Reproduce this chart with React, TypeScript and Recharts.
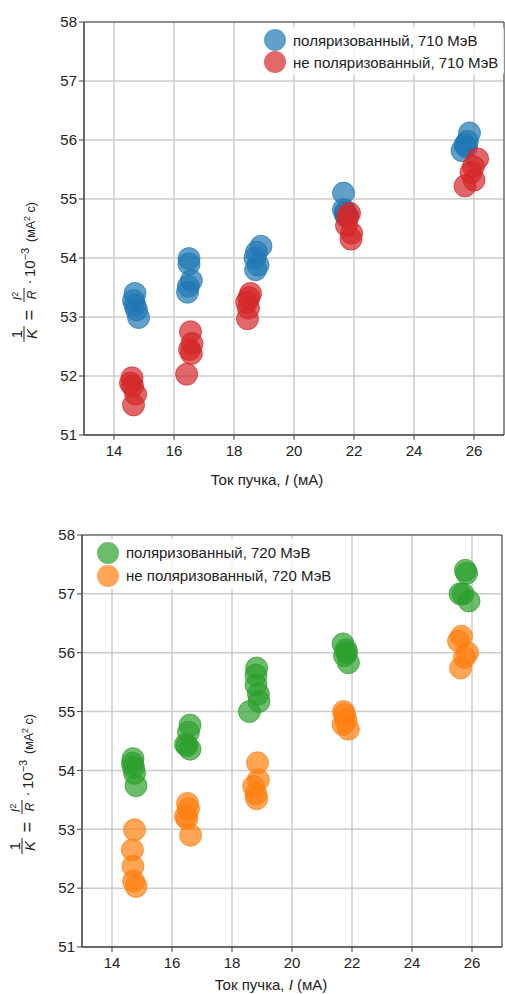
import React from 'react';
import { ScatterChart, Scatter, XAxis, YAxis, CartesianGrid, ReferenceArea, Legend } from 'recharts';

const xTicks = [14, 16, 18, 20, 22, 24, 26];
const yTicks = [51, 52, 53, 54, 55, 56, 57, 58];

// [ток пучка (мА), 1/K * 10^-3]
const pol710: [number, number][] = [
  [14.7, 53.4], [14.65, 53.28], [14.7, 53.2], [14.75, 53.12], [14.82, 52.99],
  [16.5, 53.99], [16.5, 53.9], [16.58, 53.62], [16.48, 53.52], [16.45, 53.42],
  [18.9, 54.2], [18.75, 54.1], [18.7, 54.0], [18.8, 53.88], [18.72, 53.8],
  [21.65, 55.1], [21.65, 54.82], [21.7, 54.75], [21.72, 54.78], [21.75, 54.7],
  [25.85, 56.12], [25.78, 55.98], [25.7, 55.92], [25.6, 55.82], [25.75, 55.88],
];
const unpol710: [number, number][] = [
  [14.6, 51.97], [14.55, 51.88], [14.62, 51.83], [14.72, 51.69], [14.65, 51.51],
  [16.55, 52.75], [16.6, 52.55], [16.52, 52.45], [16.58, 52.38], [16.42, 52.03],
  [18.55, 53.4], [18.5, 53.33], [18.42, 53.25], [18.48, 53.15], [18.45, 52.97],
  [21.85, 54.76], [21.8, 54.7], [21.75, 54.55], [21.92, 54.42], [21.9, 54.32],
  [26.12, 55.68], [25.98, 55.55], [25.9, 55.45], [26.0, 55.32], [25.7, 55.22],
];
const pol720: [number, number][] = [
  [14.7, 54.2], [14.68, 54.12], [14.72, 54.05], [14.75, 53.95], [14.8, 53.74],
  [16.6, 54.77], [16.55, 54.65], [16.45, 54.44], [16.6, 54.36], [16.5, 54.42],
  [18.82, 55.74], [18.8, 55.62], [18.8, 55.45], [18.88, 55.3], [18.9, 55.17], [18.58, 55.0],
  [21.7, 56.15], [21.8, 56.05], [21.82, 56.0], [21.75, 55.95], [21.88, 55.83],
  [25.78, 57.4], [25.82, 57.35], [25.6, 57.0], [25.7, 57.0], [25.9, 56.88],
];
const unpol720: [number, number][] = [
  [14.75, 52.99], [14.68, 52.65], [14.7, 52.37], [14.72, 52.12], [14.8, 52.03],
  [16.52, 53.44], [16.55, 53.35], [16.45, 53.22], [16.5, 53.18], [16.62, 52.9],
  [18.85, 54.13], [18.88, 53.84], [18.72, 53.73], [18.8, 53.6], [18.82, 53.52],
  [21.72, 55.0], [21.75, 54.95], [21.7, 54.78], [21.88, 54.7], [21.8, 54.85],
  [25.65, 56.28], [25.55, 56.2], [25.85, 56.0], [25.75, 55.92], [25.62, 55.74],
];

const toPoints = (arr: [number, number][]) => arr.map(([x, y]) => ({ x, y }));

const FONT = '"Liberation Sans", Arial, sans-serif';
const TEXT = '#222';
const FRAME = '#444';
const FS = 15;

type Series = { name: string; color: string; data: [number, number][] };

const dot = (color: string) => (props: any) => (
  <circle cx={props.cx} cy={props.cy} r={11} fill={color} fillOpacity={0.7}
    stroke={color} strokeOpacity={0.7} strokeWidth={1} />
);

// legend keeps the plotting order (recharts would sort by name)
const renderLegend = (series: Series[], rowH: number) => () => (
  <div style={{ background: 'rgba(255,255,255,0.8)', borderRadius: 3, padding: '2px 6px 2px 3px', fontFamily: FONT, fontSize: FS, color: TEXT }}>
    {series.map((s) => (
      <div key={s.name} style={{ display: 'flex', alignItems: 'center', height: rowH, whiteSpace: 'nowrap' }}>
        <span style={{ display: 'inline-block', width: 22, height: 22, borderRadius: '50%', background: s.color, opacity: 0.7, marginRight: 7 }} />
        <span>{s.name}</span>
      </div>
    ))}
  </div>
);

const xLabel = (dx: number, dy: number) => (props: any) => {
  const vb = props.viewBox;
  return (
    <text x={vb.x + vb.width / 2 + dx} y={vb.y + dy} textAnchor="middle" fontSize={FS} fontFamily={FONT} fill={TEXT}>
      Ток пучка, <tspan fontStyle="italic">I</tspan> (мА)
    </text>
  );
};

const yLabel = (tx: number, fromBottom: number) => (props: any) => {
  const vb = props.viewBox;
  const cy = vb.y + vb.height - fromBottom;
  return (
    <g transform={`translate(${tx},${cy}) rotate(-90)`} fill={TEXT} fontFamily={FONT}>
      <text x={-69} y={-2} fontSize={15} textAnchor="middle">1</text>
      <line x1={-77} x2={-61} y1={0} y2={0} stroke={TEXT} strokeWidth={1} />
      <text x={-69} y={13} fontSize={15} fontStyle="italic" textAnchor="middle">K</text>
      <text x={-50} y={11} fontSize={18} textAnchor="middle">=</text>
      <text x={-31} y={-2} fontSize={12} fontStyle="italic" textAnchor="middle">I<tspan dy={-4} fontSize={9} fontStyle="normal">2</tspan></text>
      <line x1={-37} x2={-23} y1={0} y2={0} stroke={TEXT} strokeWidth={1} />
      <text x={-30} y={12} fontSize={12} fontStyle="italic" textAnchor="middle">R</text>
      <text x={-17} y={10} fontSize={15} textAnchor="middle">·</text>
      <text x={-12} y={11} fontSize={15}>10<tspan dy={-6} fontSize={11}>−3</tspan></text>
      <text x={23} y={11} fontSize={12.5}>(мА<tspan dy={-5} fontSize={9}>2</tspan><tspan dy={5}>  с)</tspan></text>
    </g>
  );
};

type PanelProps = {
  top: number;
  width: number;
  height: number;
  marginTop: number;
  marginRight: number;
  yAxisWidth: number;
  xAxisHeight: number;
  series: Series[];
  legendPos: { top: number; left: number };
  legendRow: number;
  xLabelDx: number;
  xLabelDy: number;
  yLabelX: number;
};

const Panel = (p: PanelProps) => (
  <div style={{ position: 'absolute', left: 0, top: p.top }}>
    <ScatterChart width={p.width} height={p.height} margin={{ top: p.marginTop, right: p.marginRight, bottom: 0, left: 0 }}>
      <CartesianGrid stroke="#cccccc" strokeWidth={1.5} />
      <XAxis type="number" dataKey="x" domain={[13, 27]} ticks={xTicks} interval={0}
        height={p.xAxisHeight} tickSize={5} tickMargin={5} allowDataOverflow
        axisLine={{ stroke: FRAME }} tickLine={{ stroke: FRAME }}
        tick={{ fill: TEXT, fontSize: FS, fontFamily: FONT }}
        label={xLabel(p.xLabelDx, p.xLabelDy)} />
      <YAxis type="number" dataKey="y" domain={[51, 58]} ticks={yTicks} interval={0}
        width={p.yAxisWidth} tickSize={5} tickMargin={2} allowDataOverflow
        axisLine={{ stroke: FRAME }} tickLine={{ stroke: FRAME }}
        tick={{ fill: TEXT, fontSize: FS, fontFamily: FONT }}
        label={yLabel(p.yLabelX, 170)} />
      <ReferenceArea x1={13} x2={27} y1={51} y2={58} fill="none" stroke={FRAME} strokeWidth={1} ifOverflow="visible" />
      {p.series.map((s) => (
        <Scatter key={s.name} name={s.name} data={toPoints(s.data)} fill={s.color}
          shape={dot(s.color)} isAnimationActive={false} />
      ))}
      <Legend layout="vertical" align="center" verticalAlign="middle" content={renderLegend(p.series, p.legendRow)}
        wrapperStyle={{ top: p.legendPos.top, left: p.legendPos.left, right: 'auto', bottom: 'auto', width: 'auto', height: 'auto' }} />
    </ScatterChart>
  </div>
);

const App: React.FC = () => {
  return (
    <div style={{ position: 'absolute', left: 0, top: 0, width: 505, height: 994, overflow: 'hidden', background: '#fff', fontFamily: FONT }}>
      <Panel top={0} width={506} height={500} marginTop={22} marginRight={2} yAxisWidth={84} xAxisHeight={65}
        series={[
          { name: 'поляризованный, 710 МэВ', color: '#1f77b4', data: pol710 },
          { name: 'не поляризованный, 710 МэВ', color: '#d62728', data: unpol710 },
        ]}
        legendPos={{ top: 27, left: 261 }} legendRow={22} xLabelDx={-27} xLabelDy={50} yLabelX={24} />
      <Panel top={500} width={505} height={494} marginTop={35} marginRight={3} yAxisWidth={82} xAxisHeight={47}
        series={[
          { name: 'поляризованный, 720 МэВ', color: '#2ca02c', data: pol720 },
          { name: 'не поляризованный, 720 МэВ', color: '#ff7f0e', data: unpol720 },
        ]}
        legendPos={{ top: 39, left: 94 }} legendRow={23} xLabelDx={-21} xLabelDy={43} yLabelX={22} />
    </div>
  );
};

export default App;
